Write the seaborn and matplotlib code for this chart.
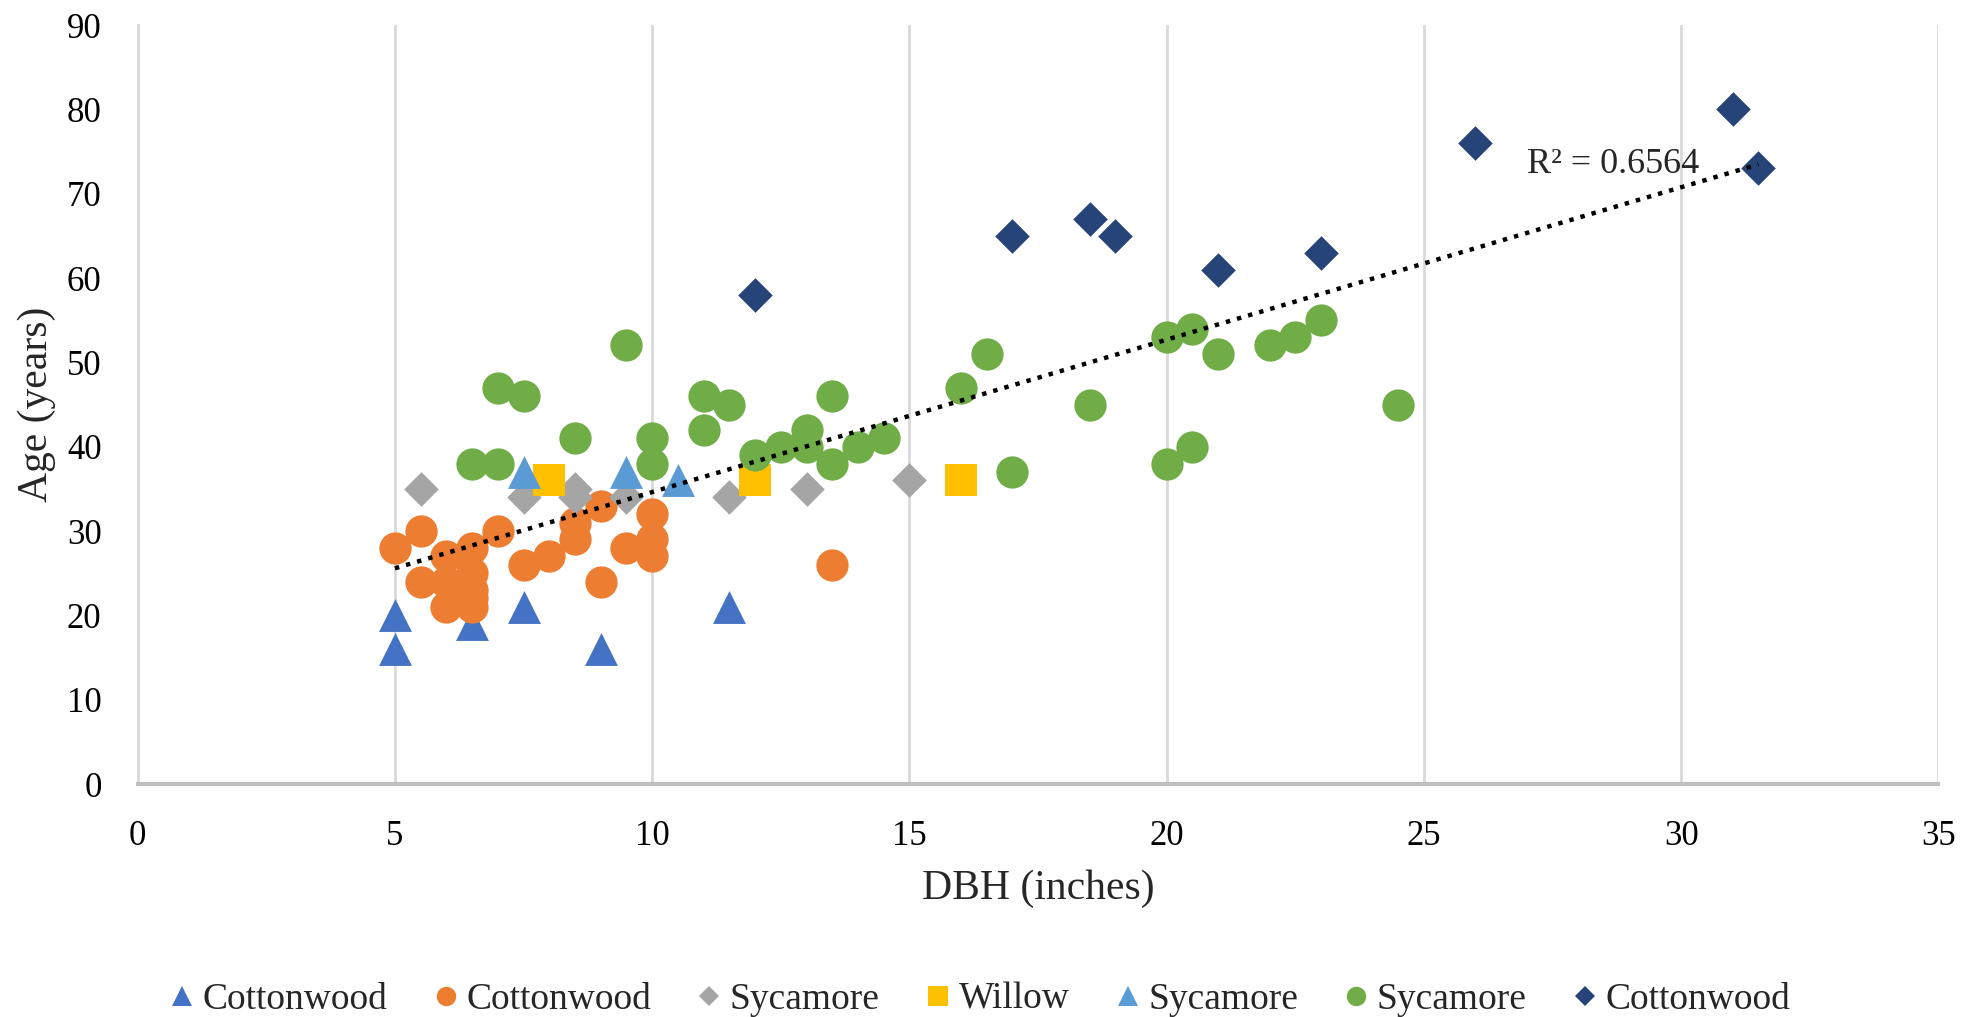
import numpy as np
import pandas as pd
import matplotlib
matplotlib.use("Agg")
import matplotlib.pyplot as plt
from matplotlib.lines import Line2D
import seaborn as sns

# series data (DBH in inches, age in years)
cw_tri_x = [5, 5, 6.5, 7.5, 9, 11.5]
cw_tri_y = [20, 16, 19, 21, 16, 21]

cw_circ_x = [5, 5.5, 5.5, 6, 6, 6, 6.5, 6.5, 6.5, 6.5, 6.5, 7, 7.5, 8, 8.5, 8.5, 9, 9, 9.5, 10, 10, 10, 13.5]
cw_circ_y = [28, 30, 24, 27, 24, 21, 28, 25, 23, 22, 21, 30, 26, 27, 29, 31, 33, 24, 28, 32, 29, 27, 26]

syc_dia_x = [5.5, 7.5, 8.5, 8.5, 9.5, 11.5, 13, 15]
syc_dia_y = [35, 34, 35, 34, 34, 34, 35, 36]

willow_x = [8, 12, 16]
willow_y = [36, 36, 36]

syc_tri_x = [7.5, 9.5, 10.5]
syc_tri_y = [37, 37, 36]

syc_circ_x = [6.5, 7, 7, 7.5, 8.5, 9.5, 10, 10, 11, 11, 11.5, 12, 12.5, 13, 13, 13.5, 13.5, 14, 14.5,
              16, 16.5, 17, 18.5, 20, 20, 20.5, 20.5, 21, 22, 22.5, 23, 24.5]
syc_circ_y = [38, 38, 47, 46, 41, 52, 41, 38, 46, 42, 45, 39, 40, 42, 40, 46, 38, 40, 41,
              47, 51, 37, 45, 53, 38, 54, 40, 51, 52, 53, 55, 45]

cw_dia_x = [12, 17, 18.5, 19, 21, 23, 26, 31, 31.5]
cw_dia_y = [58, 65, 67, 65, 61, 63, 76, 80, 73]

labels = ["Cottonwood", "Cottonwood", "Sycamore", "Willow", "Sycamore", "Sycamore", "Cottonwood"]
colors = ["#4472C4", "#ED7D31", "#A5A5A5", "#FFC000", "#5B9BD5", "#70AD47", "#264478"]
markers = ["^", "o", "D", "s", "^", "o", "D"]
sizes = [560, 540, 310, 560, 560, 540, 310]
xs = [cw_tri_x, cw_circ_x, syc_dia_x, willow_x, syc_tri_x, syc_circ_x, cw_dia_x]
ys = [cw_tri_y, cw_circ_y, syc_dia_y, willow_y, syc_tri_y, syc_circ_y, cw_dia_y]

sns.set_theme(style="white")
plt.rcParams["font.family"] = ["Liberation Serif", "DejaVu Serif"]

fig = plt.figure(figsize=(19.61, 10.17), dpi=100)
ax = fig.add_axes([0.0702, 0.2291, 0.9183, 0.7463])

for i in range(len(xs)):
    df = pd.DataFrame({"DBH": xs[i], "Age": ys[i]})
    sns.scatterplot(data=df, x="DBH", y="Age", marker=markers[i], color=colors[i],
                    s=sizes[i], linewidth=0, ax=ax, zorder=3 + i, legend=False)

# trendline through all points
all_df = pd.DataFrame({"DBH": np.concatenate(xs), "Age": np.concatenate(ys)})
sns.regplot(data=all_df, x="DBH", y="Age", scatter=False, ci=None, truncate=True, ax=ax,
            line_kws={"color": "black", "linestyle": (0, (1, 1.6)), "linewidth": 3.2, "zorder": 20})

ax.text(27, 73.5, "R\u00b2 = 0.6564", fontsize=26, ha="left", va="center", zorder=21)

ax.set_xlim(0, 35)
ax.set_ylim(0, 90)
ax.set_xticks(range(0, 36, 5))
ax.set_yticks(range(0, 91, 10))
ax.grid(axis="x", color="#D9D9D9", linewidth=2)
ax.grid(axis="y", visible=False)
for side in ["top", "right"]:
    ax.spines[side].set_visible(False)
ax.spines["left"].set_color("#D9D9D9")
ax.spines["left"].set_linewidth(2)
ax.spines["bottom"].set_color("#BFBFBF")
ax.spines["bottom"].set_linewidth(3)
ax.tick_params(axis="both", length=0, labelsize=25, colors="#000000")
ax.tick_params(axis="x", pad=26)
ax.tick_params(axis="y", pad=26)
ax.set_xlabel("DBH (inches)", fontsize=30, labelpad=12)
ax.set_ylabel("Age (years)", fontsize=30, labelpad=8)

handles = [Line2D([], [], linestyle="none", marker=markers[i], color=colors[i],
                  markersize=14 if markers[i] != "D" else 10, markeredgewidth=0)
           for i in range(len(labels))]
fig.legend(handles, labels, loc="center", bbox_to_anchor=(0.5, 0.017), ncol=7, frameon=False,
           fontsize=27, handlelength=0.6, handletextpad=0.25, columnspacing=1.25)

fig.savefig("out.png", dpi=100)
